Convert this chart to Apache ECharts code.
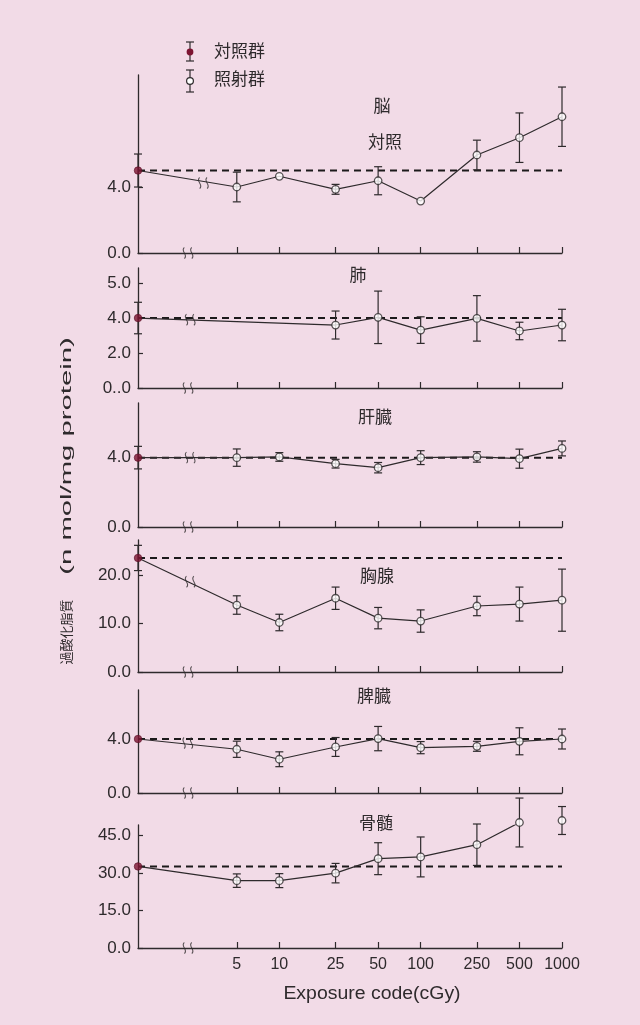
<!DOCTYPE html>
<html><head><meta charset="utf-8">
<script src="https://cdn.jsdelivr.net/npm/echarts@6/dist/echarts.min.js"></script>
<style>html,body{margin:0;padding:0;background:#f2dbe7}#c{width:640px;height:1025px}</style>
</head><body><div id="c"></div>
<script>
// ---------- DATA ----------
const doses = [5, 10, 25, 50, 100, 250, 500, 1000];
const controlDose = 1;               // control group drawn at axis origin
const panelNames = ['脳', '肺', '肝臓', '胸腺', '脾臓', '骨髄'];
const ctrlMean = [5.0, 4.0, 4.0, 23.5, 4.0, 32.7];
const ctrlErr  = [1.0, 0.9, 0.65, 2.6, 0, 0];

const brainMean  = [4.0, 4.65, 3.86, 4.38, 3.15, 5.94, 6.99, 8.26];
const brainErr   = [0.9, 0, 0.3, 0.85, 0, 0.9, 1.5, 1.8];
const lungMean   = [null, null, 3.6, 4.04, 3.31, 3.98, 3.26, 3.6];
const lungErr    = [null, null, 0.8, 1.5, 0.76, 1.3, 0.5, 0.9];
const liverMean  = [4.0, 4.04, 3.65, 3.42, 4.0, 4.04, 3.94, 4.53];
const liverErr   = [0.5, 0.25, 0.25, 0.3, 0.4, 0.3, 0.55, 0.43];
const thymusMean = [13.8, 10.2, 15.2, 11.1, 10.5, 13.6, 14.0, 14.8];
const thymusErr  = [1.9, 1.7, 2.3, 2.2, 2.3, 2.0, 3.5, 6.4];
const spleenMean = [3.24, 2.5, 3.41, 4.03, 3.36, 3.46, 3.83, 4.0];
const spleenErr  = [0.6, 0.55, 0.7, 0.9, 0.45, 0.37, 1.0, 0.74];
const marrowMean = [27.0, 27.0, 30.0, 35.8, 36.5, 41.4, 50.3, 51.1];
const marrowErr  = [2.7, 2.8, 3.9, 6.4, 8.0, 8.3, 9.8, 5.6];

const panelMeans = [brainMean, lungMean, liverMean, thymusMean, spleenMean, marrowMean];
const panelErrs  = [brainErr, lungErr, liverErr, thymusErr, spleenErr, marrowErr];

// axis-break marks (≀≀): on the x axis, and on the data line
const axisBreakDose  = 2.26;
const lineBreakDose  = [2.9, 2.34, 2.34, 2.34, 2.25, null];
const lineBreakValue = [4.24, 3.9, 4.0, 18.6, 3.7, null];

// y tick values and their printed labels (as printed in the source figure)
const yTickValues = [[0, 4], [0, 2, 4, 6], [0, 4], [0, 10, 20], [0, 4], [0, 15, 30, 45]];
const yTickLabels = [['0.0', '4.0'], ['0..0', '2.0', '4.0', '5.0'], ['0.0', '4.0'], ['0.0', '10.0', '20.0'], ['0.0', '4.0'], ['0.0', '15.0', '30.0', '45.0']];
const xTickLabels = ['5', '10', '25', '50', '100', '250', '500', '1000'];

const legendNames = ['対照群', '照射群'];
const yTitleJa = '過酸化脂質';
const yTitleUnit = '(n mol/mg protein)';
const xTitle = 'Exposure code(cGy)';

// ---------- LAYOUT ----------
const layout = [
  { top: 75,  height: 178, max: 10.79 },
  { top: 268, height: 120, max: 6.86 },
  { top: 403, height: 124, max: 7.15 },
  { top: 540, height: 132, max: 27.2 },
  { top: 690, height: 103, max: 7.63 },
  { top: 825, height: 123, max: 49.3 }
];
const titlePos = [[382, 107], [358, 276], [375, 418], [377, 577], [374, 697], [376, 824]];

const FONT = '"Liberation Sans", "Noto Sans CJK JP", sans-serif';
const INK = '#2e2a2c';
const lg = Math.log10;
const xTickVals = doses.map(lg);

const grids = [], xAxes = [], yAxes = [], series = [];
const breakPath = 'path://M3,0 C0,3 6,7 3,10 M8,0 C5,3 11,7 8,10';

layout.forEach((L, i) => {
  grids.push({ left: 138, right: 78, top: L.top, height: L.height });
  const last = i === layout.length - 1;
  xAxes.push({
    gridIndex: i, type: 'value', min: lg(controlDose), max: lg(1000),
    axisLine: { show: true, lineStyle: { color: INK, width: 1.3 } },
    axisTick: { show: true, inside: true, length: 6, customValues: xTickVals, lineStyle: { color: INK, width: 1.2 } },
    axisLabel: {
      show: last, customValues: xTickVals, margin: 9, fontSize: 16, color: INK, fontFamily: FONT,
      formatter: v => { const k = xTickVals.findIndex(t => Math.abs(t - v) < 1e-6); return k >= 0 ? xTickLabels[k] : ''; }
    },
    splitLine: { show: false }
  });
  const tv = yTickValues[i], tl = yTickLabels[i];
  yAxes.push({
    gridIndex: i, type: 'value', min: 0, max: L.max,
    axisLine: { show: true, onZero: false, lineStyle: { color: INK, width: 1.3 } },
    axisTick: { show: true, inside: true, length: 5, customValues: tv, lineStyle: { color: INK, width: 1.2 } },
    axisLabel: {
      customValues: tv, margin: 7, fontSize: 17, color: INK, fontFamily: FONT,
      formatter: v => { const k = tv.findIndex(t => Math.abs(t - v) < 1e-6); return k >= 0 ? tl[k] : ''; }
    },
    splitLine: { show: false }
  });

  const c = ctrlMean[i];
  const means = panelMeans[i], errs = panelErrs[i];
  const pts = [];
  doses.forEach((d, k) => { if (means[k] != null) pts.push([lg(d), means[k], errs[k]]); });

  // dashed control reference
  series.push({
    type: 'line', xAxisIndex: i, yAxisIndex: i, symbol: 'none', silent: true, z: 2,
    data: [[lg(controlDose), c], [lg(1000), c]],
    lineStyle: { color: '#1c1a1b', width: 2, type: [7, 5] }
  });
  // connecting line
  series.push({
    type: 'line', xAxisIndex: i, yAxisIndex: i, symbol: 'none', silent: true, z: 3,
    data: [[lg(controlDose), c]].concat(pts.map(p => [p[0], p[1]])),
    lineStyle: { color: INK, width: 1.2 }
  });
  // error bars
  const eb = pts.filter(p => p[2] > 0).map(p => [p[0], p[1] - p[2], p[1] + p[2]]);
  if (ctrlErr[i] > 0) eb.push([lg(controlDose), c - ctrlErr[i], c + ctrlErr[i]]);
  series.push({
    type: 'custom', xAxisIndex: i, yAxisIndex: i, clip: false, z: 4, silent: true,
    data: eb,
    renderItem: (params, api) => {
      const x = api.value(0);
      const lo = api.coord([x, api.value(1)]);
      const hi = api.coord([x, api.value(2)]);
      const w = 4;
      const st = { stroke: INK, lineWidth: 1.2 };
      return { type: 'group', children: [
        { type: 'line', shape: { x1: lo[0], y1: lo[1], x2: hi[0], y2: hi[1] }, style: st },
        { type: 'line', shape: { x1: lo[0] - w, y1: lo[1], x2: lo[0] + w, y2: lo[1] }, style: st },
        { type: 'line', shape: { x1: hi[0] - w, y1: hi[1], x2: hi[0] + w, y2: hi[1] }, style: st }
      ] };
    }
  });
  // irradiated points (open circles)
  series.push({
    type: 'scatter', xAxisIndex: i, yAxisIndex: i, symbol: 'circle', symbolSize: 7.5, z: 6, clip: false,
    data: pts.map(p => [p[0], p[1]]),
    itemStyle: { color: '#ffffff', borderColor: INK, borderWidth: 1.3 }
  });
  // control point
  series.push({
    type: 'scatter', xAxisIndex: i, yAxisIndex: i, symbol: 'circle', symbolSize: 7.5, z: 7, clip: false,
    data: [[lg(controlDose), c]],
    itemStyle: { color: '#7d1432', borderColor: '#5a0e24', borderWidth: 0.8 }
  });
  // break marks
  const br = [[lg(axisBreakDose), 0]];
  if (lineBreakDose[i] != null) br.push([lg(lineBreakDose[i]), lineBreakValue[i]]);
  series.push({
    type: 'scatter', xAxisIndex: i, yAxisIndex: i, symbol: breakPath, symbolSize: [10, 11], z: 8, clip: false,
    data: br, silent: true,
    itemStyle: { color: 'none', borderColor: INK, borderWidth: 1.1 }
  });
});

// ---------- GRAPHIC (legend, titles) ----------
const txt = (x, y, s, size, opt) => Object.assign({
  type: 'text', x: x, y: y, silent: true,
  style: Object.assign({ text: s, font: size + 'px ' + FONT, fill: INK, align: 'center', verticalAlign: 'middle' }, opt || {})
});
const graphic = [];
panelNames.forEach((n, i) => graphic.push(txt(titlePos[i][0], titlePos[i][1], n, 17)));
graphic.push(txt(385, 143, '対照', 17));
// legend
const bar = (x, y1, y2) => [
  { type: 'line', shape: { x1: x, y1: y1, x2: x, y2: y2 }, style: { stroke: INK, lineWidth: 1.2 } },
  { type: 'line', shape: { x1: x - 4, y1: y1, x2: x + 4, y2: y1 }, style: { stroke: INK, lineWidth: 1.2 } },
  { type: 'line', shape: { x1: x - 4, y1: y2, x2: x + 4, y2: y2 }, style: { stroke: INK, lineWidth: 1.2 } }
];
bar(190, 42, 61).forEach(g => graphic.push(g));
graphic.push({ type: 'circle', shape: { cx: 190, cy: 52, r: 3.4 }, style: { fill: '#7d1432' } });
bar(190, 70, 92).forEach(g => graphic.push(g));
graphic.push({ type: 'circle', shape: { cx: 190, cy: 81, r: 3.4 }, style: { fill: '#fff', stroke: INK, lineWidth: 1.2 } });
graphic.push(txt(214, 52, legendNames[0], 17, { align: 'left' }));
graphic.push(txt(214, 80, legendNames[1], 17, { align: 'left' }));
// axis titles (vertical, reading bottom-to-top)
graphic.push(Object.assign(txt(67, 632, yTitleJa, 13), { rotation: Math.PI / 2 }));
graphic.push(Object.assign(txt(67, 456, yTitleUnit, 15), { rotation: Math.PI / 2, scaleX: 1.95 }));
graphic.push(Object.assign(txt(372, 994, xTitle, 18), { scaleX: 1.08 }));

const chart = echarts.init(document.getElementById('c'), null, { renderer: 'canvas' });
chart.setOption({
  backgroundColor: '#f2dbe7',
  animation: false,
  textStyle: { fontFamily: FONT },
  grid: grids, xAxis: xAxes, yAxis: yAxes, series: series, graphic: graphic
});
</script></body></html>
